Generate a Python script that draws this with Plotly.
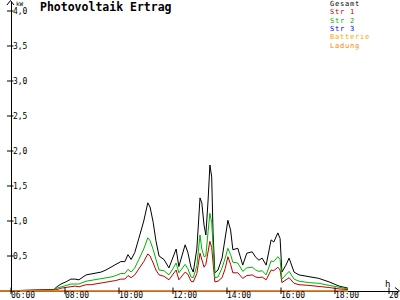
import plotly.graph_objects as go

# ---- data ----
times = ["05:35", "07:35", "07:42", "07:51", "08:02", "08:13", "08:22", "08:31", "08:47", "08:58",
         "09:09", "09:20", "09:31", "09:42", "09:53", "10:04", "10:13", "10:20", "10:27", "10:35",
         "10:44", "10:55", "11:04", "11:09", "11:16", "11:22", "11:29", "11:40", "11:51", "12:00",
         "12:07", "12:13", "12:20", "12:27", "12:33", "12:40", "12:45", "12:53", "13:00", "13:04",
         "13:09", "13:13", "13:18", "13:22", "13:26", "13:29", "13:33", "13:40", "13:49", "13:56",
         "14:02", "14:08", "14:13", "14:24", "14:35", "14:44", "14:56", "15:04", "15:11", "15:18",
         "15:27", "15:38", "15:44", "15:53", "15:58", "16:02", "16:11", "16:18", "16:29", "16:40",
         "17:02", "17:24", "17:47", "18:09", "18:29"]
gesamt = [0, 0.02, 0.06, 0.10, 0.13, 0.17, 0.17, 0.16, 0.23, 0.24,
          0.26, 0.27, 0.30, 0.34, 0.37, 0.42, 0.42, 0.52, 0.45, 0.55,
          0.75, 1.00, 1.26, 1.20, 0.98, 0.72, 0.50, 0.45, 0.33, 0.50,
          0.60, 0.35, 0.50, 0.66, 0.55, 0.34, 0.27, 0.60, 1.33, 1.26,
          0.94, 0.80, 1.30, 1.80, 1.63, 0.83, 0.26, 0.30, 0.47, 0.77,
          1.01, 0.87, 0.59, 0.61, 0.37, 0.54, 0.56, 0.48, 0.44, 0.47,
          0.37, 0.73, 0.70, 0.83, 0.75, 0.27, 0.37, 0.47, 0.27, 0.23,
          0.21, 0.18, 0.13, 0.07, 0.04]
str1 = [0, 0.01, 0.02, 0.04, 0.05, 0.07, 0.07, 0.06, 0.09, 0.09,
        0.10, 0.11, 0.12, 0.14, 0.15, 0.17, 0.17, 0.22, 0.19, 0.23,
        0.31, 0.42, 0.53, 0.50, 0.40, 0.30, 0.23, 0.21, 0.16, 0.24,
        0.30, 0.16, 0.22, 0.27, 0.24, 0.14, 0.13, 0.25, 0.54, 0.45,
        0.34, 0.38, 0.55, 0.71, 0.62, 0.35, 0.13, 0.14, 0.19, 0.32,
        0.49, 0.38, 0.26, 0.26, 0.18, 0.22, 0.23, 0.20, 0.19, 0.20,
        0.16, 0.30, 0.29, 0.34, 0.30, 0.12, 0.16, 0.19, 0.11, 0.09,
        0.08, 0.07, 0.05, 0.03, 0.02]
str2 = [0, 0.01, 0.04, 0.06, 0.08, 0.10, 0.10, 0.10, 0.14, 0.15,
        0.16, 0.17, 0.18, 0.20, 0.22, 0.25, 0.25, 0.31, 0.27, 0.33,
        0.45, 0.60, 0.76, 0.72, 0.59, 0.44, 0.30, 0.29, 0.23, 0.32,
        0.40, 0.26, 0.32, 0.38, 0.32, 0.20, 0.19, 0.36, 0.80, 0.60,
        0.49, 0.50, 0.85, 1.11, 0.98, 0.59, 0.19, 0.20, 0.33, 0.47,
        0.61, 0.52, 0.41, 0.40, 0.28, 0.33, 0.34, 0.30, 0.28, 0.29,
        0.23, 0.43, 0.42, 0.49, 0.45, 0.17, 0.23, 0.28, 0.17, 0.14,
        0.12, 0.11, 0.08, 0.05, 0.03]
zero_times = ["05:35", "18:29"]
str3 = [0, 0]
batterie = [0, 0]
ladung = [0, 0]

x_tickvals = [6, 8, 10, 12, 14, 16, 18, 20]
x_ticktext = ["06:00", "08:00", "10:00", "12:00", "14:00", "16:00", "18:00", "20:00"]
y_tickvals = [0.5, 1.0, 1.5, 2.0, 2.5, 3.0, 3.5, 4.0]
y_ticktext = ["0,5", "1,0", "1,5", "2,0", "2,5", "3,0", "3,5", "4,0"]

series_names = ["Gesamt", "Str 1", "Str 2", "Str 3", "Batterie", "Ladung"]
series_colors = ["#000000", "#c00000", "#00b400", "#0000ff", "#ffa500", "#ff8000"]


def hrs(t):
    h, m = t.split(":")
    return int(h) + int(m) / 60.0


# ---- geometry (pixels) ----
W, H = 400, 300
L, R, T, B = 0, 2, 2, 8
PW, PH = W - L - R, H - T - B
PX_PER_H = 27.0
X0 = 6 - 11 / PX_PER_H
X1 = X0 + PW / PX_PER_H
PX_PER_KW = 70.0
Y0 = -1 / PX_PER_KW
Y1 = Y0 + PH / PX_PER_KW
AXIS_X = 10  # pixel x of vertical axis


def pxp(x):  # pixel x -> paper
    return (x - L) / PW


def pyp(y):  # pixel y -> paper
    return (H - B - y) / PH


FONT = "DejaVu Sans Mono"

fig = go.Figure()
all_series = [(times, gesamt), (times, str1), (times, str2),
              (zero_times, str3), (zero_times, batterie), (zero_times, ladung)]
for (ts, vals), name, col in zip(all_series, series_names, series_colors):
    fig.add_trace(go.Scatter(x=[hrs(t) for t in ts], y=vals, mode="lines", name=name,
                             line=dict(color=col, width=1), hoverinfo="skip"))

shapes = []
# tick crosses
for v in x_tickvals:
    shapes.append(dict(type="line", xref="x", yref="paper", x0=v, x1=v,
                       y0=pyp(287.5), y1=pyp(294), line=dict(color="black", width=1)))
for v in y_tickvals:
    shapes.append(dict(type="line", xref="paper", yref="y", x0=pxp(AXIS_X - 3), x1=pxp(AXIS_X + 3.5),
                       y0=v, y1=v, line=dict(color="black", width=1)))
# arrow heads
shapes.append(dict(type="path", xref="paper", yref="paper",
                   path="M %f,%f L %f,%f L %f,%f" % (pxp(AXIS_X - 3), pyp(5), pxp(AXIS_X + 0.5), pyp(0.5),
                                                    pxp(AXIS_X + 4), pyp(5)),
                   line=dict(color="black", width=1)))
shapes.append(dict(type="path", xref="paper", yref="paper",
                   path="M %f,%f L %f,%f L %f,%f" % (pxp(395), pyp(287.5), pxp(399.5), pyp(291),
                                                    pxp(395), pyp(294.5)),
                   line=dict(color="black", width=1)))

annotations = [
    dict(text="<b>Photovoltaik Ertrag</b>", xref="paper", yref="paper", x=pxp(38), y=pyp(7.5),
         xanchor="left", yanchor="middle", showarrow=False, font=dict(family=FONT, size=11.5, color="black")),
    dict(text="kW", xref="paper", yref="paper", x=pxp(14), y=pyp(3.5),
         xanchor="left", yanchor="middle", showarrow=False, font=dict(family=FONT, size=6, color="black")),
    dict(text="h", xref="paper", yref="paper", x=pxp(387), y=pyp(284),
         xanchor="center", yanchor="middle", showarrow=False, font=dict(family=FONT, size=9, color="black")),
]
# x tick labels: left-aligned at their tick
for v, txt in zip(x_tickvals, x_ticktext):
    annotations.append(dict(text=txt, xref="x", yref="paper", x=v, y=pyp(301),
                            xanchor="left", yanchor="bottom", xshift=-1.5, showarrow=False, borderpad=0,
                            font=dict(family=FONT, size=8, color="black")))
legend_y = [4, 12.3, 20.6, 29, 37.3, 45.6]
for name, col, yy in zip(series_names, series_colors, legend_y):
    annotations.append(dict(text="<span style='letter-spacing:0.8px'>%s</span>" % name,
                            xref="paper", yref="paper", x=pxp(328.5), y=pyp(yy),
                            xanchor="left", yanchor="middle", showarrow=False, borderpad=0,
                            font=dict(family=FONT, size=7, color=col)))

fig.update_layout(
    width=W, height=H, margin=dict(l=L, r=R, t=T, b=B),
    paper_bgcolor="white", plot_bgcolor="white", showlegend=False,
    font=dict(family=FONT, size=8.5, color="black"),
    xaxis=dict(range=[X0, X1], tickvals=x_tickvals, showticklabels=False,
               ticks="", showgrid=False, zeroline=False, showline=False),
    yaxis=dict(range=[Y0, Y1], tickvals=y_tickvals, ticktext=y_ticktext, ticks="",
               showgrid=False, zeroline=True, zerolinecolor="black", zerolinewidth=1,
               showline=True, linecolor="black", linewidth=1,
               anchor="free", position=pxp(AXIS_X + 0.5), ticklabelposition="inside",
               tickfont=dict(family=FONT, size=8, color="black")),
    shapes=shapes, annotations=annotations,
)

fig.write_html("out.html")
